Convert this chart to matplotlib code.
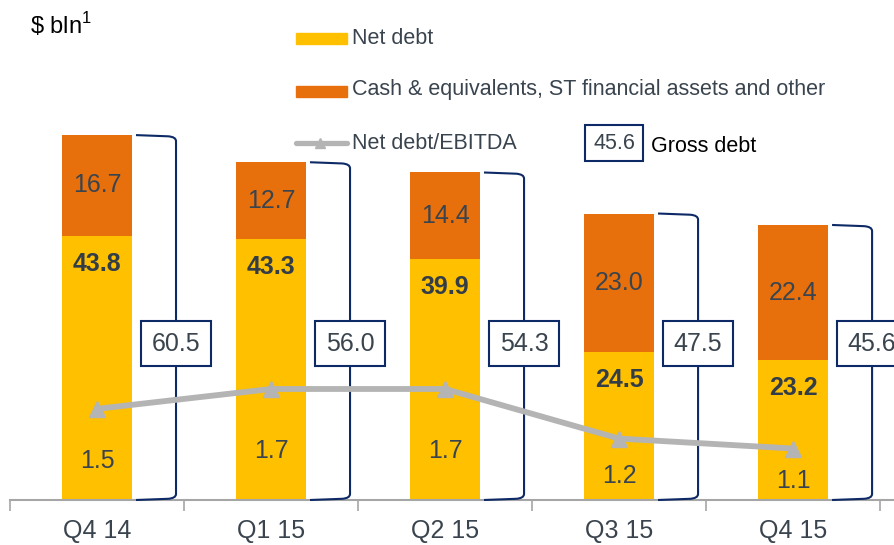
import numpy as np
import matplotlib.pyplot as plt
from matplotlib.patches import Rectangle, PathPatch
from matplotlib.path import Path
from matplotlib.lines import Line2D

plt.rcParams['font.family'] = ['Liberation Sans', 'DejaVu Sans']

# data
quarters = ['Q4 14', 'Q1 15', 'Q2 15', 'Q3 15', 'Q4 15']
net_debt = [43.8, 43.3, 39.9, 24.5, 23.2]
cash_other = [16.7, 12.7, 14.4, 23.0, 22.4]
gross_debt = [60.5, 56.0, 54.3, 47.5, 45.6]
net_debt_ebitda = [1.5, 1.7, 1.7, 1.2, 1.1]

YELLOW = '#FFC000'
ORANGE = '#E8700C'
GREY = '#B4B4B4'
NAVY = '#0E2A66'
TXT = '#3A444E'

W, H = 894, 545
fig = plt.figure(figsize=(W / 100, H / 100), dpi=100)

def fx(x):
    return x / W

def fy(y):
    return 1 - y / H

ax = fig.add_axes([fx(10), fy(500), fx(884), 500 / H])
x = np.arange(len(quarters))
bw = 0.40

ax.bar(x, net_debt, bw, color=YELLOW, zorder=2)
ax.bar(x, cash_other, bw, bottom=net_debt, color=ORANGE, zorder=2)
ax.set_xlim(-0.5, 4.58)
ax.set_ylim(0, 82.9)

for s in ['top', 'left', 'right']:
    ax.spines[s].set_visible(False)
ax.spines['bottom'].set_color('#A6A6A6')
ax.spines['bottom'].set_linewidth(1.5)
ax.set_yticks([])
ax.set_xticks(x)
ax.set_xticklabels(quarters, fontsize=18, color=TXT)
ax.tick_params(axis='x', which='major', length=0, pad=14)
ax.set_xticks(np.arange(-0.5, 5.0, 1.0), minor=True)
ax.tick_params(axis='x', which='minor', length=8, width=1.2, color='#A6A6A6')

for i in range(len(quarters)):
    # segment labels
    ax.text(x[i], net_debt[i] + cash_other[i] / 2, f'{cash_other[i]:.1f}',
            ha='center', va='center', fontsize=18, color=TXT, zorder=4)
    ax.annotate(f'{net_debt[i]:.1f}', (x[i], net_debt[i]), xytext=(0, -28),
                textcoords='offset pixels', ha='center', va='center',
                fontsize=18, fontweight='bold', color='#333D47', zorder=4)

    # bracket for gross debt
    top = gross_debt[i]
    x0 = x[i] + 0.224
    xv = x[i] + 0.454
    rx, ry = 0.045, 1.0
    verts = [(x0, top), (xv - rx, top - 0.2), (xv, top - 0.3), (xv, top - ry),
             (xv, ry), (xv, 0.3), (xv - rx, 0.2), (x0, 0.0)]
    codes = [Path.MOVETO, Path.LINETO, Path.CURVE3, Path.CURVE3,
             Path.LINETO, Path.CURVE3, Path.CURVE3, Path.LINETO]
    ax.add_patch(PathPatch(Path(verts, codes), fill=False, ec=NAVY, lw=1.5,
                           zorder=3, clip_on=False))
    ax.text(xv, 25.9, f'{gross_debt[i]:.1f}', ha='center', va='center',
            fontsize=18, color=TXT, zorder=5,
            bbox=dict(boxstyle='square,pad=0.42', fc='white', ec=NAVY, lw=1.5))

# ratio line on its own scale
ax2 = ax.twinx()
ax2.set_ylim(0.581, 5.621)
ax2.axis('off')
ax2.plot(x, net_debt_ebitda, color=GREY, lw=4.2, marker='^', ms=11,
         zorder=3, solid_capstyle='round')
for i, v in enumerate(net_debt_ebitda):
    ax2.annotate(f'{v:.1f}', (x[i], (v + 0.581) / 2), xytext=(0, -7),
                 textcoords='offset pixels', ha='center', va='center',
                 fontsize=18, color=TXT)

# header and legend
fig.text(fx(30), fy(25), r'\$ bln$^\mathregular{1}$', fontsize=17, color='black',
         ha='left', va='center')
fig.add_artist(Rectangle((fx(296), fy(44)), fx(51), 11 / H, color=YELLOW))
fig.text(fx(352), fy(38), 'Net debt', fontsize=15.5, color=TXT, va='center')
fig.add_artist(Rectangle((fx(296), fy(97)), fx(51), 11 / H, color=ORANGE))
fig.text(fx(352), fy(90), 'Cash & equivalents, ST financial assets and other',
         fontsize=15.5, color=TXT, va='center')
fig.add_artist(Line2D([fx(296), fx(347)], [fy(143), fy(143)], color=GREY, lw=3.8,
                      solid_capstyle='round'))
fig.add_artist(Line2D([fx(320)], [fy(143)], color=GREY, marker='^', ms=7))
fig.text(fx(352), fy(143), 'Net debt/EBITDA', fontsize=15.5, color=TXT, va='center')
fig.text(fx(614), fy(143), '45.6', fontsize=15.5, color=TXT, ha='center',
         va='center',
         bbox=dict(boxstyle='square,pad=0.36', fc='white', ec=NAVY, lw=1.5))
fig.text(fx(651), fy(146), 'Gross debt', fontsize=15.5, color='black', va='center')

fig.savefig('out.png', dpi=100)
